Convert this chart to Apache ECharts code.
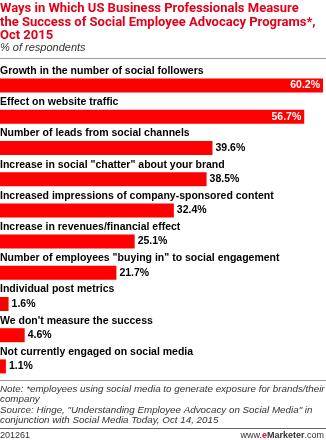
<!DOCTYPE html>
<html><head><meta charset="utf-8">
<script src="https://cdn.jsdelivr.net/npm/echarts@6/dist/echarts.min.js"></script>
<style>html,body{margin:0;padding:0;background:#fff}#c{width:326px;height:440px}</style>
</head><body><div id="c"></div>
<script>
var categories = [
  'Growth in the number of social followers',
  'Effect on website traffic',
  'Number of leads from social channels',
  'Increase in social "chatter" about your brand',
  'Increased impressions of company-sponsored content',
  'Increase in revenues/financial effect',
  'Number of employees "buying in" to social engagement',
  'Individual post metrics',
  "We don't measure the success",
  'Not currently engaged on social media'
];
var values = [60.2, 56.7, 39.6, 38.5, 32.4, 25.1, 21.7, 1.6, 4.6, 1.1];
var titleText = 'Ways in Which US Business Professionals Measure\nthe Success of Social Employee Advocacy Programs*,\nOct 2015';
var subtitleText = '% of respondents';
var noteLines = [
  'Note: *employees using social media to generate exposure for brands/their',
  'company',
  'Source: Hinge, "Understanding Employee Advocacy on Social Media" in',
  'conjunction with Social Media Today, Oct 14, 2015'
];
var chartId = '201261';

var FONT = 'Liberation Sans';
var chart = echarts.init(document.getElementById('c'));
var insideCount = 2;
var seriesData = values.map(function (v, i) {
  return {
    value: v,
    label: i < insideCount
      ? { position: 'insideRight', color: '#fff', distance: 3 }
      : { position: 'right', color: '#000', distance: 3 }
  };
});
chart.setOption({
  animation: false,
  textStyle: { fontFamily: FONT },
  grid: { left: 0, right: 3, top: 70, height: 312, containLabel: false, outerBoundsMode: 'none' },
  xAxis: { type: 'value', min: 0, max: 60.2, show: false },
  yAxis: {
    type: 'category', data: categories, inverse: true,
    axisLine: { show: false }, axisTick: { show: false }, splitLine: { show: false },
    axisLabel: {
      inside: true, margin: 0, align: 'left', verticalAlign: 'bottom',
      padding: [0, 0, 8, 0], lineHeight: 13,
      fontFamily: FONT, fontWeight: 'bold', fontSize: 10.5, color: '#000'
    },
    z: 10
  },
  series: [{
    type: 'bar', data: seriesData, barWidth: 14,
    itemStyle: { color: '#ff0000' },
    label: {
      show: true, fontFamily: FONT, fontWeight: 'bold', fontSize: 10.5,
      formatter: function (p) { return p.value.toFixed(1) + '%'; }
    }
  }],
  graphic: [
    { type: 'text', left: 0, top: 2, style: { text: titleText, fill: '#e2001a', font: 'bold 13px Roboto', lineHeight: 13.5 } },
    { type: 'text', left: 0, top: 42, style: { text: subtitleText, fill: '#333', font: 'italic 11px ' + FONT } },
    { type: 'rect', shape: { x: 0, y: 58, width: 326, height: 1 }, style: { fill: '#999' } },
    { type: 'rect', shape: { x: 0, y: 380, width: 326, height: 1 }, style: { fill: '#999' } },
    { type: 'text', left: 0, top: 384, style: { text: noteLines.join('\n'), fill: '#333', font: 'italic 9.8px ' + FONT, lineHeight: 10.5 } },
    { type: 'rect', shape: { x: 0, y: 428, width: 326, height: 1 }, style: { fill: '#666' } },
    { type: 'text', left: 0, top: 431, style: { text: chartId, fill: '#333', font: '9px ' + FONT } },
    { type: 'text', right: 2, top: 431, style: {
      text: '{a|www.}{e|e}{b|Marketer}{a|.com}',
      rich: {
        a: { fill: '#333', font: '9px ' + FONT },
        e: { fill: '#e2001a', font: 'bold 9px ' + FONT },
        b: { fill: '#333', font: 'bold 9px ' + FONT }
      }
    } }
  ]
});
</script></body></html>
